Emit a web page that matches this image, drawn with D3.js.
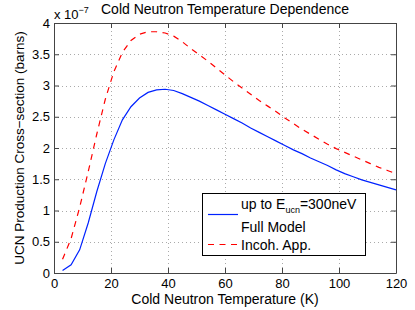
<!DOCTYPE html>
<html><head><meta charset="utf-8">
<script src="https://cdn.jsdelivr.net/npm/d3@7"></script>
<style>body{margin:0;background:#fff}svg{display:block;font-family:"Liberation Sans",Arial,sans-serif}</style>
</head><body><svg id="c" width="415" height="310"></svg>
<script>
const temps = [3,6,9,12,15,18,21,24,27,30,33,36,39,42,45,48,51,54,57,60,63,66,69,72,75,78,81,84,87,90,93,96,99,102,105,108,111,114,117,120];
const fullModel = [0.04,0.13,0.37,0.80,1.30,1.75,2.13,2.45,2.66,2.80,2.89,2.93,2.94,2.92,2.87,2.81,2.75,2.68,2.61,2.54,2.47,2.40,2.32,2.25,2.18,2.11,2.04,1.97,1.91,1.84,1.78,1.72,1.65,1.59,1.54,1.49,1.45,1.41,1.37,1.33];
const incohApp = [0.22,0.55,1.05,1.62,2.22,2.78,3.22,3.53,3.72,3.82,3.86,3.86,3.84,3.79,3.70,3.59,3.49,3.39,3.28,3.17,3.06,2.96,2.86,2.76,2.67,2.58,2.48,2.39,2.30,2.22,2.14,2.06,1.99,1.93,1.87,1.81,1.75,1.69,1.64,1.59];
const xTicks = [0,20,40,60,80,100,120];
const yTicks = [0,0.5,1,1.5,2,2.5,3,3.5,4];
const yTickLabels = ["0","0.5","1","1.5","2","2.5","3","3.5","4"];

const svg = d3.select("#c");
const L=54, R=396, T=23, B=273;
const x = d3.scaleLinear().domain([0,120]).range([L,R]);
const y = d3.scaleLinear().domain([0,4]).range([B,T]);
const fs = 13;

// grid
const g = svg.append("g");
g.selectAll(".vg").data(xTicks.slice(1,-1)).join("line")
  .attr("x1",d=>x(d)+0.5).attr("x2",d=>x(d)+0.5).attr("y1",T).attr("y2",B)
  .attr("stroke","#aaa").attr("stroke-width",1).attr("stroke-dasharray","1,3");
g.selectAll(".hg").data(yTicks.slice(1,-1)).join("line")
  .attr("y1",d=>Math.round(y(d))+0.5).attr("y2",d=>Math.round(y(d))+0.5).attr("x1",L).attr("x2",R)
  .attr("stroke","#aaa").attr("stroke-width",1).attr("stroke-dasharray","1,3");

// axes
const xb = svg.append("g").attr("transform",`translate(0,${B})`)
  .call(d3.axisBottom(x).tickValues(xTicks).tickSizeInner(-5).tickSizeOuter(0).tickPadding(6));
const xt = svg.append("g").attr("transform",`translate(0,${T})`)
  .call(d3.axisTop(x).tickValues(xTicks).tickSizeInner(-5).tickSizeOuter(0).tickFormat(""));
const yl = svg.append("g").attr("transform",`translate(${L},0)`)
  .call(d3.axisLeft(y).tickValues(yTicks).tickSizeInner(-5).tickSizeOuter(0).tickPadding(4).tickFormat((d,i)=>yTickLabels[i]));
const yr = svg.append("g").attr("transform",`translate(${R},0)`)
  .call(d3.axisRight(y).tickValues(yTicks).tickSizeInner(-5).tickSizeOuter(0).tickFormat(""));
[xb,xt,yl,yr].forEach(a=>{
  a.selectAll("path").attr("stroke","#444");
  a.selectAll("line").attr("stroke","#444");
  a.selectAll("text").attr("fill","#000").style("font-size",fs+"px").style("font-family","Liberation Sans, Arial, sans-serif");
});

// lines
const line = d3.line().x(d=>x(d[0])).y(d=>y(d[1]));
svg.append("path").datum(temps.map((t,i)=>[t,fullModel[i]]))
  .attr("d",line).attr("fill","none").attr("stroke","#0022ff").attr("stroke-width",1.2);
svg.append("path").datum(temps.map((t,i)=>[t,incohApp[i]]))
  .attr("d",line).attr("fill","none").attr("stroke","#ff0000").attr("stroke-width",1.2).attr("stroke-dasharray","6,5.5");

// title and labels
svg.append("text").attr("x",(L+R)/2).attr("y",13.5).attr("text-anchor","middle")
  .style("font-size","14px").text("Cold Neutron Temperature Dependence");
svg.append("text").attr("x",(L+R)/2).attr("y",303.5).attr("text-anchor","middle")
  .style("font-size","14px").text("Cold Neutron Temperature (K)");
svg.append("text").attr("transform",`translate(24,${(T+B)/2}) rotate(-90)`).attr("text-anchor","middle")
  .style("font-size","13.5px").text("UCN Production Cross\u2212section (barns)");
const ex = svg.append("text").attr("x",54).attr("y",19).style("font-size",fs+"px");
ex.append("tspan").text("x 10");
ex.append("tspan").attr("dy",-6).style("font-size","9px").text("\u22127");

// legend
const lg = svg.append("g");
lg.append("rect").attr("x",202.5).attr("y",193.5).attr("width",163).attr("height",62)
  .attr("fill","#fff").attr("stroke","#000").attr("stroke-width",1);
lg.append("line").attr("x1",208).attr("x2",238).attr("y1",214.5).attr("y2",214.5)
  .attr("stroke","#0022ff").attr("stroke-width",1.2);
lg.append("line").attr("x1",208).attr("x2",238).attr("y1",244.5).attr("y2",244.5)
  .attr("stroke","#ff0000").attr("stroke-width",1.2).attr("stroke-dasharray","6,5.5");
const t1 = lg.append("text").attr("x",241).attr("y",208.5).style("font-size","14px");
t1.append("tspan").text("up to E");
t1.append("tspan").attr("dy",4.5).style("font-size","9px").text("ucn");
t1.append("tspan").attr("dy",-4.5).text("=300neV");
lg.append("text").attr("x",241).attr("y",231.5).style("font-size","14px").text("Full Model");
lg.append("text").attr("x",241).attr("y",249.5).style("font-size","14px").text("Incoh. App.");
</script></body></html>
